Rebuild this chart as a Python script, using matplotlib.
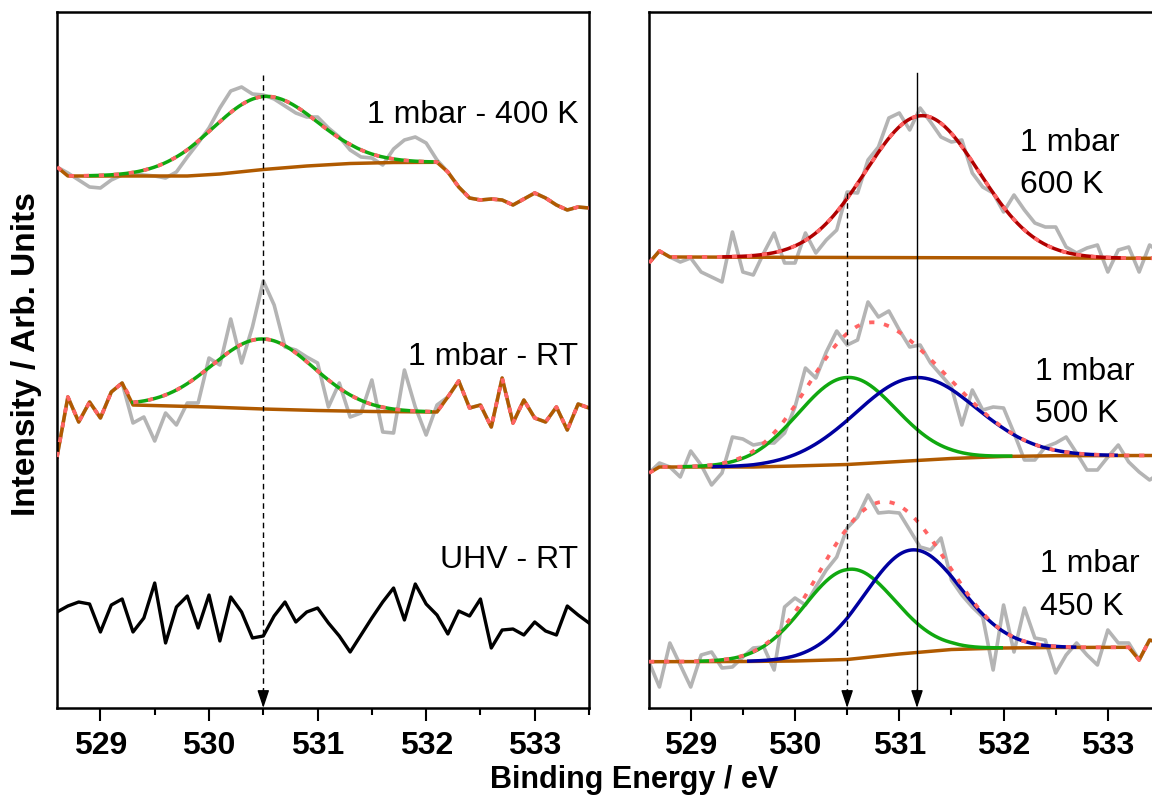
import numpy as np
import matplotlib
matplotlib.use('Agg')
import matplotlib.pyplot as plt
from matplotlib.ticker import MultipleLocator

plt.rcParams['font.family'] = ['Liberation Sans', 'DejaVu Sans']

# binding energy grid of the spectra (eV)
energy = np.round(np.arange(528.6, 533.55, 0.1), 1)

# ---- left panel: raw O 1s intensities (arb. units) ----
uhv_rt = [96, 102, 106, 104, 76, 103, 109, 76, 90, 125,
          65, 101, 112, 80, 113, 67, 111, 96, 70, 72,
          92, 106, 86, 96, 100, 85, 72, 56, 73, 90,
          106, 120, 88, 124, 104, 93, 74, 97, 92, 109,
          60, 78, 79, 73, 86, 77, 73, 102, 93, 85]
mbar_rt = [251, 311, 286, 306, 290, 316, 325, 285, 291, 267,
           295, 283, 305, 305, 350, 343, 389, 345, 381, 427,
           403, 361, 358, 351, 345, 301, 325, 291, 295, 328,
           276, 275, 338, 301, 273, 303, 311, 327, 300, 303,
           281, 330, 285, 308, 290, 286, 301, 278, 304, 300]
mbar_400 = [541, 535, 528, 521, 520, 528, 533, 534, 533, 532,
            530, 536, 551, 565, 580, 600, 617, 621, 614, 613,
            609, 602, 595, 591, 591, 580, 571, 558, 551, 550,
            543, 559, 568, 571, 565, 548, 536, 521, 510, 508,
            509, 508, 503, 509, 515, 510, 503, 498, 501, 500]

# ---- right panel ----
mbar_450 = [46, 21, 65, 43, 21, 53, 56, 40, 41, 51,
            60, 61, 38, 101, 110, 103, 121, 138, 151, 180,
            191, 213, 195, 196, 195, 178, 161, 158, 170, 128,
            113, 101, 91, 38, 103, 56, 100, 70, 68, 35,
            53, 65, 53, 43, 78, 65, 65, 48, 68, 65]
mbar_500 = [235, 245, 241, 231, 257, 243, 223, 235, 271, 269,
            263, 265, 265, 275, 301, 340, 330, 356, 377, 363,
            368, 406, 391, 397, 378, 361, 363, 345, 333, 321,
            283, 318, 298, 301, 300, 275, 248, 248, 261, 265,
            271, 255, 238, 238, 251, 263, 246, 236, 228, 235]
mbar_600 = [445, 457, 451, 446, 450, 436, 431, 426, 476, 436,
            433, 455, 475, 445, 445, 475, 455, 468, 478, 516,
            515, 548, 561, 590, 595, 578, 600, 586, 571, 566,
            568, 535, 521, 515, 496, 513, 498, 485, 481, 481,
            461, 455, 460, 463, 436, 458, 461, 436, 463, 455]

# Shirley backgrounds inside each fit window (energy, intensity)
bg_rt_e = [529.3, 530.0, 530.5, 531.0, 531.5, 532.1]
bg_rt = [303, 301, 299, 297.5, 296.5, 296]
bg_400_e = [528.7, 529.8, 530.1, 530.5, 530.9, 531.3, 531.7, 532.1]
bg_400 = [532, 532, 534, 538.5, 542, 544.5, 545.5, 545.7]
bg_450_e = [528.6, 529.5, 530.0, 530.5, 531.0, 531.5, 532.0, 532.5, 533.2]
bg_450 = [46.3, 46.5, 47, 48.5, 54, 58.5, 60, 60.5, 60.7]
bg_500_e = [528.7, 529.6, 530.0, 530.5, 531.0, 531.5, 532.0, 532.5, 533.5]
bg_500 = [241, 241, 242, 243.5, 246.5, 249.5, 251.5, 252.3, 252.5]
bg_600_e = [528.8, 533.5]
bg_600 = [451, 449.7]

# fitted components: (centre eV, FWHM eV, height)
peaks_rt = [(530.5, 1.1, 70)]
peaks_400 = [(530.5, 1.15, 73)]
peaks_450 = [(530.52, 1.02, 90), (531.12, 1.08, 103)]
peaks_500 = [(530.5, 1.1, 87), (531.15, 1.36, 83)]
peaks_600 = [(531.22, 1.28, 142)]

GRAY = '#b4b4b4'
BROWN = '#b05a00'
GREEN = '#10a810'
BLUE = '#0000a0'
DARKRED = '#b00000'
SALMON = '#ff6464'


def gauss(x, c, fwhm, h):
    return h * np.exp(-4 * np.log(2) * ((x - c) / fwhm) ** 2)


def draw_fit(ax, raw, bg_e, bg_y, peaks, colors):
    raw = np.asarray(raw, float)
    lo, hi = bg_e[0], bg_e[-1]
    left = energy < lo - 1e-6
    right = energy > hi + 1e-6
    ax.plot(energy, raw, color=GRAY, lw=2.6, zorder=1)
    # background follows the data outside the fit window
    bx = np.concatenate([energy[left], bg_e, energy[right]])
    by = np.concatenate([raw[left], bg_y, raw[right]])
    ax.plot(bx, by, color=BROWN, lw=2.5, zorder=2)
    fine = np.linspace(lo, hi, 400)
    base = np.interp(fine, bg_e, bg_y)
    total = base.copy()
    for (c, w, h), col in zip(peaks, colors):
        comp = gauss(fine, c, w, h)
        total += comp
        m = comp > 0.3
        ax.plot(fine[m], base[m] + comp[m], color=col, lw=2.5, zorder=3)
    ex = np.concatenate([energy[left], fine, energy[right]])
    ey = np.concatenate([raw[left], total, raw[right]])
    ax.plot(ex, ey, color=SALMON, lw=2.7, ls=(0, (1.4, 2.6)), zorder=4)


def down_arrow(ax, x, top, ls):
    ax.plot([x, x], [top, 16], color='k', lw=1.0, ls=ls, zorder=5)
    ax.annotate('', xy=(x, 0), xytext=(x, 18),
                arrowprops=dict(arrowstyle='-|>,head_length=0.9,head_width=0.3',
                                color='k', lw=1.0, shrinkA=0, shrinkB=0,
                                mutation_scale=12), zorder=5)


def style_axes(ax):
    ax.set_xlim(528.6, 533.5)
    ax.set_ylim(0, 696)
    ax.xaxis.set_major_locator(MultipleLocator(1))
    ax.xaxis.set_minor_locator(MultipleLocator(0.5))
    ax.set_yticks([])
    for sp in ax.spines.values():
        sp.set_linewidth(1.8)
    ax.tick_params(axis='x', which='major', length=9.5, width=1.5,
                   labelsize=23, pad=7)
    ax.tick_params(axis='x', which='minor', length=5, width=1.5)
    ax.tick_params(top=False)
    for lbl in ax.get_xticklabels():
        lbl.set_fontweight('bold')


fig = plt.figure(figsize=(11.52, 7.96), dpi=100)
ax1 = fig.add_axes([57 / 1152, 88 / 796, 532 / 1152, 696 / 796])
ax2 = fig.add_axes([649 / 1152, 88 / 796, 511 / 1152, 696 / 796])

# left panel
ax1.plot(energy, uhv_rt, color='k', lw=2.4)
draw_fit(ax1, mbar_rt, bg_rt_e, bg_rt, peaks_rt, [GREEN])
draw_fit(ax1, mbar_400, bg_400_e, bg_400, peaks_400, [GREEN])
down_arrow(ax1, 530.5, 633, (0, (4, 3)))
txt = dict(fontsize=23, ha='right', va='baseline')
ax1.text(533.4, 585, '1 mbar - 400 K', **txt)
ax1.text(533.4, 343, '1 mbar - RT', **txt)
ax1.text(533.4, 140, 'UHV - RT', **txt)
style_axes(ax1)

# right panel
draw_fit(ax2, mbar_600, bg_600_e, bg_600, peaks_600, [DARKRED])
draw_fit(ax2, mbar_500, bg_500_e, bg_500, peaks_500, [GREEN, BLUE])
draw_fit(ax2, mbar_450, bg_450_e, bg_450, peaks_450, [GREEN, BLUE])
down_arrow(ax2, 530.5, 515, (0, (4, 3)))
down_arrow(ax2, 531.17, 635, '-')
txt = dict(fontsize=23, ha='left', va='baseline')
ax2.text(532.16, 557, '1 mbar', **txt)
ax2.text(532.16, 515, '600 K', **txt)
ax2.text(532.3, 328, '1 mbar', **txt)
ax2.text(532.3, 286, '500 K', **txt)
ax2.text(532.35, 136, '1 mbar', **txt)
ax2.text(532.35, 93, '450 K', **txt)
style_axes(ax2)

fig.text(27 / 1152, 442 / 796, 'Intensity / Arb. Units', rotation=90,
         ha='center', va='center', fontsize=24, fontweight='bold')
fig.text(634 / 1152, 8 / 796, 'Binding Energy / eV', ha='center',
         va='baseline', fontsize=22, fontweight='bold')

fig.savefig('out.png', dpi=100)
